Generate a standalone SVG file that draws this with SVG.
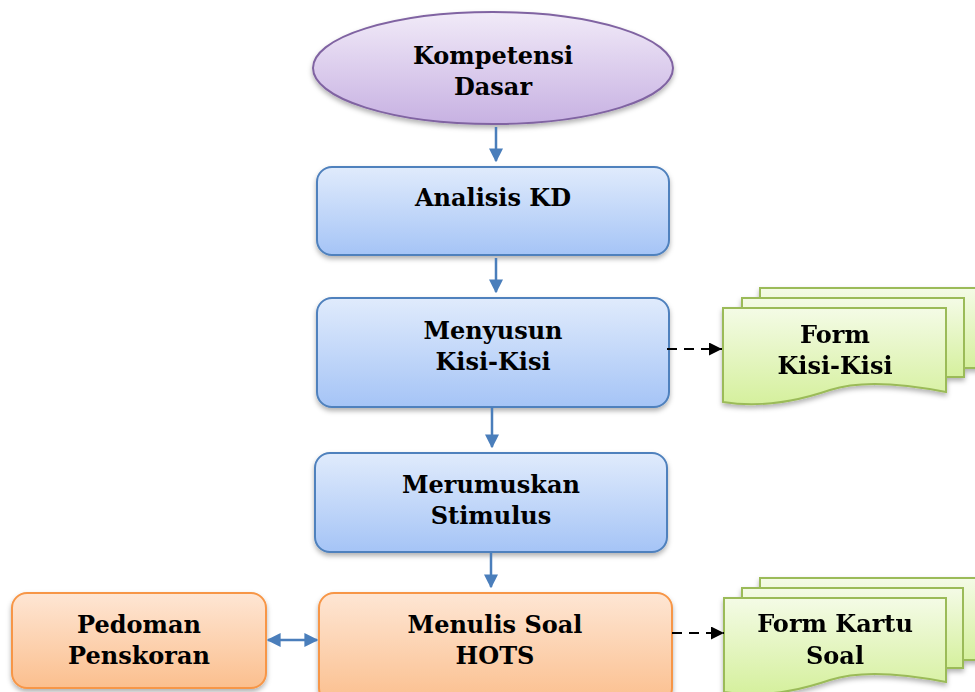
<svg xmlns="http://www.w3.org/2000/svg" width="975" height="692" viewBox="0 0 975 692">
<defs>
<linearGradient id="gPurple" x1="0" y1="0" x2="0" y2="1"><stop offset="0" stop-color="#f1eaf8"/><stop offset="1" stop-color="#c7b1e2"/></linearGradient>
<linearGradient id="gBlue" x1="0" y1="0" x2="0" y2="1"><stop offset="0" stop-color="#e0ebfc"/><stop offset="1" stop-color="#a5c4f6"/></linearGradient>
<linearGradient id="gOrange" x1="0" y1="0" x2="0" y2="1"><stop offset="0" stop-color="#fee6d4"/><stop offset="1" stop-color="#fbbf8e"/></linearGradient>
<linearGradient id="gGreen" x1="0" y1="0" x2="0" y2="1"><stop offset="0" stop-color="#f4fbe6"/><stop offset="1" stop-color="#d5f09d"/></linearGradient>
<filter id="sh" x="-10%" y="-10%" width="125%" height="135%"><feDropShadow dx="0" dy="3" stdDeviation="2.5" flood-color="#000" flood-opacity="0.3"/></filter>
<marker id="ab" viewBox="0 0 10 10" refX="9" refY="5" markerWidth="14" markerHeight="14" orient="auto-start-reverse" markerUnits="userSpaceOnUse"><path d="M0,0 L10,5 L0,10 z" fill="#4a7ebb"/></marker>
<marker id="ak" viewBox="0 0 10 10" refX="10" refY="5" markerWidth="13" markerHeight="13" orient="auto" markerUnits="userSpaceOnUse"><path d="M0,0 L10,5 L0,10 z" fill="#000"/></marker>
</defs>
<style>
text{font-family:"DejaVu Serif","Liberation Serif",serif;font-weight:bold;font-size:24px;text-anchor:middle;fill:#000}
.blue{fill:url(#gBlue);stroke:#4f81bd;stroke-width:2}
.orange{fill:url(#gOrange);stroke:#f79646;stroke-width:2}
.green{fill:url(#gGreen);stroke:#9bbb59;stroke-width:2}
.conn{stroke:#4a7ebb;stroke-width:2.5;fill:none}
.dash{stroke:#000;stroke-width:2;stroke-dasharray:10,7;fill:none}
</style>
<g id="kd">
<ellipse cx="493" cy="68" rx="180" ry="56" fill="url(#gPurple)" stroke="#8064a2" stroke-width="2" filter="url(#sh)"/>
<text x="493" y="64">Kompetensi</text>
<text x="493" y="95">Dasar</text>
</g>
<g id="analisis">
<rect x="317" y="167" width="352" height="88" rx="15" class="blue" filter="url(#sh)"/>
<text x="493" y="206">Analisis KD</text>
</g>
<g id="kisi">
<rect x="317" y="298" width="352" height="109" rx="15" class="blue" filter="url(#sh)"/>
<text x="493" y="339">Menyusun</text>
<text x="493" y="370">Kisi-Kisi</text>
</g>
<g id="stimulus">
<rect x="315" y="453" width="352" height="99" rx="15" class="blue" filter="url(#sh)"/>
<text x="491" y="493">Merumuskan</text>
<text x="491" y="524">Stimulus</text>
</g>
<g id="hots">
<rect x="319" y="593" width="353" height="110" rx="15" class="orange" filter="url(#sh)"/>
<text x="495" y="633">Menulis Soal</text>
<text x="495" y="664">HOTS</text>
</g>
<g id="pedoman">
<rect x="12" y="593" width="254" height="95" rx="15" class="orange" filter="url(#sh)"/>
<text x="139" y="633">Pedoman</text>
<text x="139" y="664">Penskoran</text>
</g>
<g id="formkisi" filter="url(#sh)">
<path d="M760,288 H985 V368 H964 V298 H760 Z" class="green"/>
<path d="M742,298 H964 V377 H946 V308 H742 Z" class="green"/>
<path d="M723,308 H946 V392 C900,383 860,380 830,390 C795,402 760,408 723,402 Z" class="green"/>
<text x="835" y="343">Form</text>
<text x="835" y="374">Kisi-Kisi</text>
</g>
<g id="formkartu" filter="url(#sh)">
<path d="M760,578 H985 V660 H963 V588 H760 Z" class="green"/>
<path d="M742,588 H963 V668 H946 V598 H742 Z" class="green"/>
<path d="M724,598 H946 V682 C900,673 860,670 830,680 C795,692 760,698 724,692 Z" class="green"/>
<text x="835" y="632">Form Kartu</text>
<text x="835" y="664">Soal</text>
</g>
<g id="connectors">
<line x1="496" y1="127" x2="496" y2="161" class="conn" marker-end="url(#ab)"/>
<line x1="496" y1="258" x2="496" y2="292" class="conn" marker-end="url(#ab)"/>
<line x1="492" y1="407" x2="492" y2="447" class="conn" marker-end="url(#ab)"/>
<line x1="491" y1="553" x2="491" y2="587" class="conn" marker-end="url(#ab)"/>
<line x1="268" y1="640" x2="317" y2="640" class="conn" marker-start="url(#ab)" marker-end="url(#ab)"/>
<line x1="667" y1="349" x2="722" y2="349" class="dash" marker-end="url(#ak)"/>
<line x1="672" y1="633" x2="724" y2="633" class="dash" marker-end="url(#ak)"/>
</g>
</svg>
